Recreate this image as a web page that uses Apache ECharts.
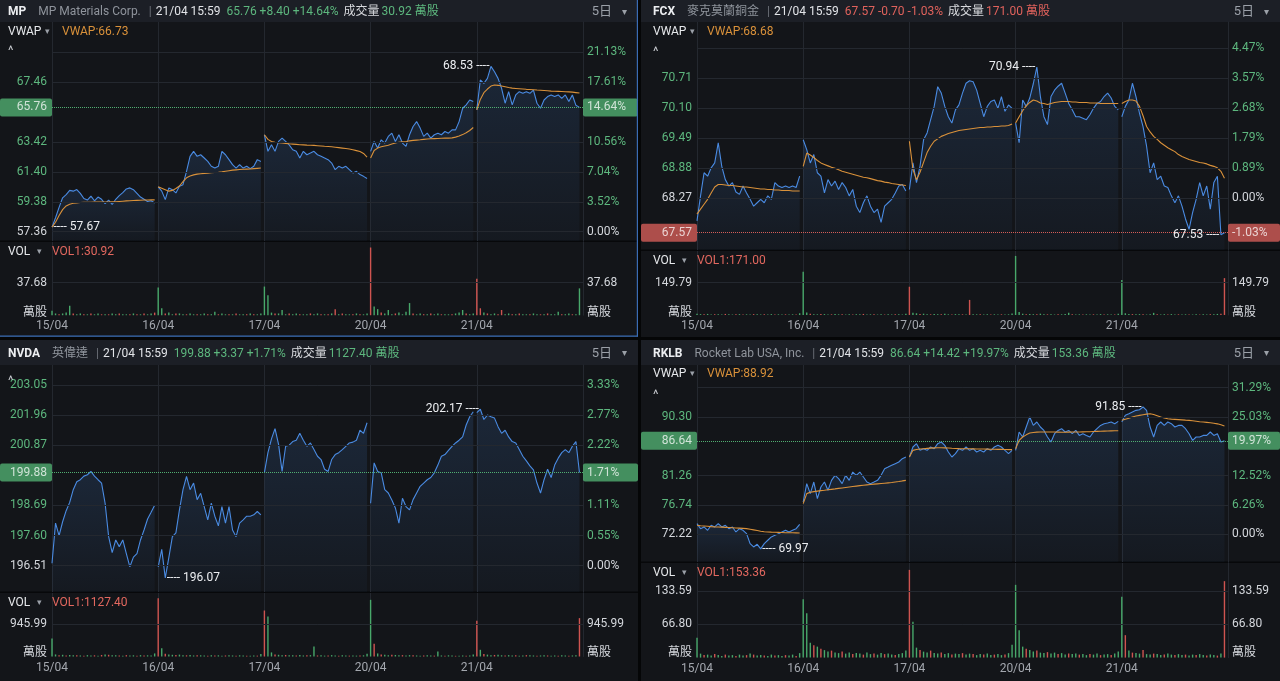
<!DOCTYPE html>
<html><head><meta charset="utf-8">
<script src="https://cdn.jsdelivr.net/npm/echarts@6.0.0/dist/echarts.min.js"></script>
<style>html,body{margin:0;padding:0;background:#050607;}#c{width:1280px;height:681px;}</style>
</head><body><div id="c"></div>
<script>
// ---------------- DATA ----------------
const dayLabels = ['15/04', '16/04', '17/04', '20/04', '21/04'];
const lastTime = '21/04 15:59';

// MP Materials
const mpPrevClose = 57.36;
const mpPriceTicks = [57.36, 59.38, 61.40, 63.42, 67.46, 69.48];
const mpVolTicks = [37.68];
const mpPrice = [
  [57.67, 58.30, 59.00, 59.65, 59.87, 60.15, 60.10, 60.21, 59.95, 59.60, 59.50, 59.76, 59.45, 59.70, 59.55, 59.25, 59.50, 59.20, 59.55, 59.80, 60.00, 60.25, 60.32, 60.20, 59.95, 59.70, 59.55, 59.40, 59.45, 59.30],
  [60.39, 60.10, 59.53, 60.32, 60.20, 59.98, 60.43, 60.54, 61.44, 62.45, 62.79, 62.45, 62.56, 62.34, 62.11, 61.78, 61.66, 61.78, 62.79, 62.56, 62.23, 61.89, 61.66, 61.89, 61.66, 61.78, 61.62, 61.78, 62.23, 62.11],
  [63.91, 62.79, 63.23, 62.79, 63.46, 63.68, 63.46, 63.23, 62.90, 62.79, 62.34, 62.79, 62.56, 62.67, 62.79, 62.56, 62.45, 62.34, 62.23, 62.00, 61.55, 61.78, 61.66, 61.78, 61.55, 61.33, 61.44, 61.22, 61.10, 60.95],
  [62.79, 63.46, 63.01, 63.57, 63.35, 63.80, 64.02, 63.46, 63.91, 63.35, 63.12, 63.91, 64.47, 64.80, 64.36, 63.80, 64.02, 63.68, 63.91, 64.02, 63.91, 64.13, 64.02, 64.24, 64.24, 64.80, 65.70, 65.93, 66.26, 66.15],
  [65.60, 67.61, 67.38, 67.72, 68.53, 68.17, 67.72, 67.05, 66.04, 66.82, 65.93, 66.60, 66.82, 66.71, 66.82, 66.71, 66.93, 66.04, 65.70, 66.26, 66.49, 66.60, 66.49, 66.60, 66.37, 66.60, 66.15, 66.60, 65.90, 65.76]
];
const mpVwap = [
  [57.67, 58.00, 58.45, 58.85, 59.10, 59.22, 59.28, 59.31, 59.33, 59.34, 59.35, 59.35, 59.36, 59.36, 59.36, 59.37, 59.37, 59.38, 59.38, 59.40, 59.42, 59.44, 59.45, 59.47, 59.48, 59.49, 59.50, 59.50, 59.51, 59.51],
  [60.39, 60.30, 60.20, 60.10, 60.15, 60.28, 60.45, 60.75, 61.00, 61.12, 61.20, 61.25, 61.28, 61.30, 61.32, 61.34, 61.36, 61.37, 61.40, 61.44, 61.48, 61.52, 61.54, 61.56, 61.58, 61.59, 61.60, 61.62, 61.64, 61.66],
  [63.91, 63.60, 63.45, 63.40, 63.37, 63.35, 63.33, 63.30, 63.28, 63.26, 63.24, 63.23, 63.21, 63.20, 63.19, 63.17, 63.15, 63.13, 63.12, 63.10, 63.07, 63.04, 63.01, 62.98, 62.95, 62.90, 62.84, 62.78, 62.65, 62.40],
  [62.34, 62.85, 63.01, 63.10, 63.15, 63.20, 63.28, 63.35, 63.40, 63.44, 63.46, 63.50, 63.53, 63.55, 63.57, 63.60, 63.62, 63.64, 63.65, 63.66, 63.67, 63.68, 63.68, 63.70, 63.75, 63.82, 63.92, 64.05, 64.20, 64.40],
  [65.59, 66.30, 66.75, 67.00, 67.20, 67.27, 67.25, 67.20, 67.15, 67.10, 67.06, 67.04, 67.02, 67.00, 66.98, 66.97, 66.95, 66.93, 66.92, 66.90, 66.88, 66.86, 66.85, 66.84, 66.83, 66.82, 66.81, 66.79, 66.76, 66.73]
];
// volume in 萬股; negative = down-tick (red) bar
const mpVol = [
  [5, 2, -1, 2, 3, 11, -2, 1, 2, -1, 1, -2, 1, 2, -1, 1, -1, 2, 1, -2, 1, 1, -1, 2, -1, 1, -2, 1, 2, -3],
  [32, 8, -2, 3, 1, -2, 2, 1, -1, 2, 1, -1, 1, 2, -1, 1, 4, -1, 2, 1, -1, 1, -2, 1, 1, -1, 2, -1, 1, 2],
  [33, 23, 3, -2, 2, 6, 1, -2, 1, 2, -1, 1, 1, -2, 1, 2, -1, 1, -1, 2, -7, 1, -2, 1, 1, -1, 2, -1, 1, 2],
  [-78, 10, 7, -3, 2, 6, 1, -2, 3, 1, 4, 14, -2, 1, 2, -1, 1, -2, 1, 2, -1, 1, 1, -1, 2, 3, 6, -2, 1, 2],
  [-42, -8, 3, -2, 1, 2, -1, -6, 1, 2, -1, 1, -2, 1, 1, -1, 2, 1, -1, 1, -2, 1, 1, 4, -1, 1, 2, -1, 1, 30.92]
];

// FCX
const fcxPrevClose = 68.27;
const fcxPriceTicks = [68.27, 68.88, 69.49, 70.10, 70.71, 71.32];
const fcxVolTicks = [149.79];
const fcxPrice = [
  [67.81, 68.32, 68.79, 68.72, 68.89, 68.99, 69.40, 68.92, 68.65, 68.52, 68.59, 68.40, 68.35, 68.52, 68.38, 68.25, 68.11, 68.18, 68.25, 68.18, 68.32, 68.25, 68.59, 68.52, 68.49, 68.52, 68.49, 68.52, 68.49, 68.72],
  [69.46, 69.26, 68.99, 69.16, 68.79, 68.72, 68.38, 68.65, 68.52, 68.62, 68.45, 68.59, 68.49, 68.32, 68.45, 68.11, 67.98, 68.18, 68.32, 68.11, 67.98, 68.05, 67.78, 68.11, 68.18, 68.25, 68.38, 68.52, 68.55, 68.42],
  [68.45, 68.99, 68.59, 68.92, 69.46, 69.60, 69.87, 70.14, 70.54, 70.41, 70.14, 69.93, 69.80, 70.07, 70.17, 70.41, 70.61, 70.66, 70.64, 70.47, 70.20, 69.93, 70.14, 70.24, 70.27, 70.10, 70.34, 70.04, 70.17, 70.10],
  [69.80, 69.40, 70.27, 70.14, 70.31, 70.60, 70.94, 70.34, 69.93, 69.77, 70.34, 70.47, 70.55, 70.61, 70.41, 70.20, 70.07, 69.93, 69.93, 69.90, 69.87, 69.97, 70.10, 70.20, 70.24, 70.34, 70.41, 70.31, 70.14, 70.07],
  [69.93, 70.14, 70.27, 70.61, 70.34, 70.00, 69.73, 69.33, 68.79, 68.99, 68.65, 68.72, 68.52, 68.49, 68.32, 68.18, 68.32, 68.11, 67.85, 67.64, 67.98, 68.25, 68.59, 68.32, 68.52, 68.05, 68.59, 68.72, 67.53, 67.57]
];
const fcxVwap = [
  [67.95, 68.05, 68.15, 68.25, 68.38, 68.50, 68.55, 68.55, 68.54, 68.53, 68.53, 68.52, 68.51, 68.50, 68.50, 68.49, 68.48, 68.47, 68.46, 68.46, 68.45, 68.45, 68.44, 68.44, 68.43, 68.43, 68.43, 68.42, 68.42, 68.42],
  [68.92, 69.19, 69.15, 69.10, 69.04, 68.99, 68.96, 68.93, 68.90, 68.88, 68.85, 68.82, 68.80, 68.78, 68.76, 68.74, 68.72, 68.70, 68.69, 68.67, 68.65, 68.63, 68.62, 68.60, 68.59, 68.57, 68.56, 68.55, 68.54, 68.53],
  [69.43, 68.86, 68.65, 68.80, 69.00, 69.20, 69.33, 69.43, 69.48, 69.53, 69.56, 69.59, 69.61, 69.63, 69.65, 69.66, 69.67, 69.68, 69.69, 69.70, 69.71, 69.71, 69.72, 69.72, 69.73, 69.73, 69.74, 69.74, 69.75, 69.78],
  [69.80, 69.93, 70.05, 70.15, 70.22, 70.27, 70.25, 70.21, 70.20, 70.18, 70.20, 70.22, 70.23, 70.24, 70.24, 70.24, 70.23, 70.23, 70.22, 70.22, 70.22, 70.21, 70.21, 70.21, 70.20, 70.20, 70.20, 70.20, 70.20, 70.20],
  [70.20, 70.24, 70.27, 70.27, 70.25, 70.14, 69.95, 69.73, 69.62, 69.53, 69.47, 69.40, 69.35, 69.30, 69.26, 69.22, 69.16, 69.12, 69.09, 69.06, 69.04, 69.02, 69.00, 68.99, 68.97, 68.94, 68.92, 68.89, 68.82, 68.68]
];
const fcxVol = [
  [6, 4, -3, 5, 2, -4, 3, 2, -5, 3, 2, -3, 4, -2, 3, 2, -4, 3, 2, -3, 2, 4, -2, 3, 2, -3, 2, 3, -2, 8],
  [201, 12, -6, 4, 3, -5, 4, 2, -3, 5, 3, -4, 2, 3, -2, 4, 3, -5, 2, 3, -4, 2, 3, -2, 4, 2, -3, 3, 2, 6],
  [-131, 10, 8, -5, 6, 4, -3, 5, 3, -4, 6, 3, -2, 4, 3, -3, 2, -70, 4, 3, -3, 2, 4, -2, 3, 2, -3, 2, 3, 7],
  [274, 14, 6, -4, 5, 3, -4, 6, 3, -3, 4, 2, -3, 3, 5, 11, -3, 2, 3, -2, 3, 2, -3, 2, 4, -2, 3, 2, -2, 6],
  [162, 8, 5, -4, 3, 4, -3, 2, 4, 10, -3, 2, 3, -2, 4, 2, -3, 2, 3, -2, 2, 3, -2, 4, 2, -3, 3, 5, -6, -171]
];

// NVDA
const nvdaPrevClose = 196.51;
const nvdaPriceTicks = [196.51, 197.60, 198.69, 200.87, 201.96, 203.05];
const nvdaVolTicks = [945.99];
const nvdaPrice = [
  [196.60, 198.05, 197.60, 198.10, 198.50, 198.80, 199.26, 199.55, 199.62, 199.75, 199.80, 199.92, 199.75, 199.62, 199.50, 198.77, 197.56, 196.98, 197.44, 197.20, 197.44, 196.95, 196.47, 196.82, 196.95, 197.44, 197.80, 198.20, 198.44, 198.70],
  [196.47, 197.10, 196.07, 196.80, 197.56, 197.70, 198.53, 199.26, 199.74, 199.26, 199.50, 198.90, 199.13, 198.65, 198.17, 198.77, 198.30, 197.95, 198.65, 198.05, 198.65, 197.80, 197.56, 198.05, 198.17, 198.30, 198.30, 198.35, 198.47, 198.35],
  [199.88, 200.60, 201.10, 201.47, 200.90, 199.92, 200.83, 200.87, 201.00, 201.05, 201.30, 201.05, 200.83, 200.95, 200.71, 200.47, 200.35, 200.00, 199.92, 200.35, 200.53, 200.60, 200.71, 200.83, 200.95, 200.98, 201.05, 201.41, 201.30, 201.68],
  [198.77, 200.23, 199.92, 199.87, 199.26, 199.14, 198.89, 198.60, 198.05, 198.95, 198.65, 198.53, 198.90, 199.14, 199.38, 199.50, 199.62, 199.70, 199.87, 200.15, 200.47, 200.53, 200.68, 200.83, 200.95, 201.05, 201.17, 201.60, 201.90, 202.08],
  [202.05, 202.17, 201.80, 201.96, 201.90, 201.85, 201.54, 201.30, 201.41, 201.17, 201.00, 200.95, 200.71, 200.47, 200.30, 200.12, 199.98, 199.50, 199.14, 199.62, 200.00, 199.70, 200.15, 200.40, 200.60, 200.71, 200.60, 200.83, 201.00, 199.88]
];
const nvdaVol = [
  [530, 60, -40, 50, -30, 45, 35, -40, 30, -25, 40, 30, -35, 25, -45, 60, -50, 40, 35, -30, 25, -40, 30, 35, -25, 40, -30, 35, 30, 90],
  [-1713, 245, -80, 60, 50, -45, 55, 40, -35, 45, 30, -40, 35, 30, -25, 40, -30, 35, 25, -30, 40, 30, -25, 35, 30, -20, 25, 30, -25, 70],
  [-1351, 1174, 120, -60, 50, 40, -45, 35, 40, -30, 45, 30, -35, 40, 294, -30, 35, 25, -30, 40, 30, -25, 35, 30, -25, 30, 25, -30, 35, 80],
  [1665, -373, 90, -60, 55, 40, -50, 45, 35, -40, 30, 40, -35, 30, 25, -30, 35, 30, -25, 147, 30, -25, 35, 30, -20, 25, 30, -25, 30, 60],
  [-1048, 197, -70, 55, 40, -45, 50, 35, -30, 40, 30, -35, 25, 30, -40, 35, 30, -25, 30, 35, -30, 25, 30, -25, 35, 30, -25, 30, 40, -1127.40]
];

// RKLB
const rklbPrevClose = 72.22;
const rklbPriceTicks = [72.22, 76.74, 81.26, 90.30, 94.82];
const rklbVolTicks = [66.80, 133.59];
const rklbPrice = [
  [73.86, 73.09, 73.35, 72.84, 73.61, 73.35, 73.86, 73.35, 73.61, 73.09, 73.35, 72.58, 73.09, 72.84, 72.32, 70.78, 70.27, 70.68, 69.97, 70.78, 71.30, 71.81, 72.07, 72.32, 72.58, 72.84, 72.58, 72.84, 73.09, 73.76],
  [77.20, 80.03, 78.49, 80.28, 77.72, 79.51, 80.28, 79.00, 80.54, 81.31, 80.80, 80.03, 81.31, 80.54, 81.82, 81.31, 81.82, 81.05, 80.28, 80.03, 80.28, 80.54, 81.31, 82.34, 82.59, 82.85, 83.11, 83.37, 83.88, 84.14],
  [84.14, 85.68, 86.19, 85.16, 85.42, 85.16, 85.68, 85.42, 86.19, 86.45, 85.93, 84.91, 84.14, 84.65, 85.42, 85.16, 85.68, 85.16, 85.42, 84.91, 85.16, 84.91, 85.42, 85.16, 85.68, 85.93, 85.68, 85.16, 84.65, 85.16],
  [85.16, 87.99, 87.22, 88.76, 90.30, 89.01, 89.53, 88.76, 88.24, 87.22, 86.45, 87.73, 88.24, 88.50, 87.99, 88.24, 87.73, 88.24, 87.47, 87.73, 87.47, 87.22, 87.99, 88.50, 89.01, 89.27, 89.37, 89.53, 89.27, 89.63],
  [89.53, 90.56, 90.81, 91.07, 91.33, 91.43, 91.85, 91.33, 88.76, 87.22, 89.01, 89.53, 89.01, 89.53, 89.27, 88.76, 89.01, 89.01, 88.50, 87.73, 86.70, 87.22, 87.22, 87.47, 87.47, 87.99, 87.47, 87.73, 86.45, 86.64]
];
const rklbVwap = [
  [73.61, 73.55, 73.50, 73.45, 73.40, 73.37, 73.35, 73.32, 73.29, 73.26, 73.23, 73.20, 73.17, 73.13, 73.09, 73.00, 72.90, 72.80, 72.70, 72.62, 72.58, 72.55, 72.53, 72.51, 72.49, 72.47, 72.46, 72.45, 72.44, 72.43],
  [76.95, 78.49, 78.70, 78.80, 78.88, 78.95, 79.00, 79.08, 79.15, 79.22, 79.30, 79.37, 79.44, 79.51, 79.58, 79.65, 79.72, 79.78, 79.84, 79.90, 79.95, 80.00, 80.05, 80.10, 80.15, 80.20, 80.28, 80.35, 80.45, 80.54],
  [84.14, 85.16, 85.30, 85.38, 85.42, 85.46, 85.50, 85.54, 85.57, 85.57, 85.55, 85.52, 85.48, 85.45, 85.43, 85.42, 85.41, 85.40, 85.39, 85.38, 85.37, 85.36, 85.35, 85.34, 85.33, 85.32, 85.31, 85.30, 85.28, 85.27],
  [85.42, 86.70, 87.22, 87.55, 87.83, 87.92, 87.97, 87.99, 88.00, 88.00, 87.99, 87.98, 87.97, 87.96, 87.96, 87.97, 87.98, 87.99, 88.00, 88.01, 88.02, 88.04, 88.06, 88.08, 88.10, 88.12, 88.14, 88.16, 88.18, 88.19],
  [89.79, 89.95, 90.10, 90.30, 90.45, 90.55, 90.65, 90.75, 90.81, 90.70, 90.50, 90.30, 90.15, 90.04, 89.98, 89.94, 89.90, 89.86, 89.82, 89.79, 89.72, 89.65, 89.58, 89.53, 89.48, 89.42, 89.35, 89.25, 89.10, 88.92]
];
const rklbVol = [
  [40, 8, -5, 6, 4, -7, 5, 3, -6, 4, 5, -3, 6, 4, -5, 8, -6, 4, 5, -4, 3, 6, -4, 5, 3, -5, 4, 6, -3, 9],
  [117, 89, 30, -25, 22, -18, 15, 12, -14, 10, 9, -12, 8, 10, -7, 9, 8, -6, 10, 7, -8, 6, 9, -7, 8, 6, -5, 7, 9, 14],
  [-176, 72, 20, -15, 12, 10, -14, 9, 8, -10, 7, 9, -6, 8, 7, -9, 6, 8, -7, 5, 7, -6, 8, 5, -6, 7, 5, -6, 9, 26],
  [146, 55, 22, -18, 15, 12, -14, 10, 9, -11, 8, 10, -7, 9, 6, -8, 7, 8, -6, 7, 5, -7, 6, 8, -5, 6, 7, -5, 8, 12],
  [122, -45, 14, -10, 9, 8, -15, 7, 6, -8, 7, 5, -6, 8, 6, -5, 7, 5, -6, 4, 6, -5, 7, 5, -4, 6, 5, -4, 8, -153.36]
];

// ---------------- STYLE / LAYOUT ----------------
const FONT = 'Roboto, "Noto Sans CJK TC", "Noto Sans", sans-serif';
const COL = {
  bg: '#131519', header: '#1c1f26', grid: '#24282f', sep: '#07080a',
  blue: '#4a8be2', orange: '#d9913a', green: '#5db77e', red: '#e0625c',
  white: '#d4d7dc', grey: '#8f949c', volG: '#48a86a', volR: '#cf5450',
  hlG: '#55b877', hlR: '#e2625c', sel: '#3a6cb4', vol1: '#e3685f'
};
const PER_DAY = 30;
const cats = [];
dayLabels.forEach(d => { for (let i = 0; i < PER_DAY; i++) cats.push(d + '#' + i); });
cats.push('#end');

const panels = [
  { sym: 'MP', name: 'MP Materials Corp.', prev: mpPrevClose, price: mpPrice, vwap: mpVwap, vol: mpVol,
    ticks: mpPriceTicks, volTicks: mpVolTicks, hideTopLeft: true, selected: true,
    x0: 0, y0: 0, w: 638, h: 337, hdrTop: 0, hdrH: 22, pad: 8, L: 52, R: 583,
    pTop: 22, pBot: 241, pMin: 56.732, pMax: 71.529, vTop: 242, vBot: 315.2, vMax: 84.35,
    vwapY: 30, caretY: 47, volY: 250, unitY: 311 },
  { sym: 'FCX', name: '麥克莫蘭銅金', prev: fcxPrevClose, price: fcxPrice, vwap: fcxVwap, vol: fcxVol,
    ticks: fcxPriceTicks, volTicks: fcxVolTicks, hideTopLeft: true,
    x0: 641, y0: 0, w: 639, h: 337, hdrTop: 0, hdrH: 22, pad: 12, L: 697, R: 1228,
    pTop: 22, pBot: 250, pMin: 67.219, pMax: 71.856, vTop: 251, vBot: 315, vMax: 296.8,
    vwapY: 30, caretY: 48, volY: 259, unitY: 311 },
  { sym: 'NVDA', name: '英偉達', prev: nvdaPrevClose, price: nvdaPrice, vwap: null, vol: nvdaVol,
    ticks: nvdaPriceTicks, volTicks: nvdaVolTicks, hideTopLeft: false,
    x0: 0, y0: 340, w: 638, h: 341, hdrTop: 340, hdrH: 25, pad: 8, L: 52, R: 583,
    pTop: 365, pBot: 592, pMin: 195.558, pMax: 203.771, vTop: 593, vBot: 656.5, vMax: 1865.5,
    vwapY: null, caretY: 377, volY: 601, unitY: 651 },
  { sym: 'RKLB', name: 'Rocket Lab USA, Inc.', prev: rklbPrevClose, price: rklbPrice, vwap: rklbVwap, vol: rklbVol,
    ticks: rklbPriceTicks, volTicks: rklbVolTicks, hideTopLeft: true,
    x0: 641, y0: 340, w: 639, h: 341, hdrTop: 340, hdrH: 25, pad: 12, L: 697, R: 1228,
    pTop: 365, pBot: 562, pMin: 67.95, pMax: 98.32, vTop: 563, vBot: 657.6, vMax: 189.8,
    vwapY: 372, caretY: 391, volY: 571, unitY: 651 }
];

const option = { backgroundColor: '#050607', animation: false, grid: [], xAxis: [], yAxis: [], series: [], graphic: [] };

function padDay(arr, d) {
  const out = new Array(cats.length).fill(null);
  arr.forEach((v, i) => { out[d * PER_DAY + i] = v; });
  return out;
}
const TXT_DY = 1.5;
function txt(x, y, text, fill, extra) {
  return { type: 'text', x: x, y: y + TXT_DY, silent: true, z: 60,
    style: Object.assign({ text: text, fill: fill, fontSize: 12, fontFamily: FONT, align: 'left', verticalAlign: 'middle' }, extra || {}) };
}
const dayTick = (idx) => idx % PER_DAY === 0 && idx < PER_DAY * dayLabels.length;

function addPanel(p) {
  const gi = option.grid.length;
  const G = option.graphic;
  const flat = p.price.flat();
  const last = flat[flat.length - 1];
  const chg = last - p.prev;
  const up = chg >= 0;
  const vflat = p.vol.flat();
  const volLast = Math.abs(vflat[vflat.length - 1]);

  // backgrounds
  G.push({ type: 'rect', silent: true, z: -100, shape: { x: p.x0, y: p.y0, width: p.w, height: p.h }, style: { fill: COL.bg } });
  G.push({ type: 'rect', silent: true, z: -99, shape: { x: p.x0, y: p.hdrTop, width: p.w, height: p.hdrH }, style: { fill: COL.header } });
  G.push({ type: 'rect', silent: true, z: -50, shape: { x: p.x0, y: p.pBot - 0.5, width: p.w, height: 1.5 }, style: { fill: COL.sep } });
  if (p.selected) {
    G.push({ type: 'rect', silent: true, z: 80, shape: { x: p.x0, y: p.y0 + p.h - 1.5, width: p.w, height: 1.2 }, style: { fill: COL.sel } });
    G.push({ type: 'rect', silent: true, z: 80, shape: { x: p.x0 + p.w - 1.2, y: p.y0, width: 1.2, height: p.h - 0.5 }, style: { fill: COL.sel } });
  }

  // header
  const vc = up ? COL.green : COL.red;
  const pctStr = (up ? '+' : '') + (chg / p.prev * 100).toFixed(2) + '%';
  const chgStr = (up ? '+' : '') + chg.toFixed(2);
  G.push({ type: 'text', x: p.x0 + p.pad, y: p.hdrTop + p.hdrH / 2 + 1, silent: true, z: 60,
    style: { text: '{s|' + p.sym + '}{n|' + p.name + '}{b||}{t|' + lastTime + '}{v|' + last.toFixed(2) + ' ' + chgStr + ' ' + pctStr + '}{l|成交量}{w|' + volLast.toFixed(2) + ' 萬股}',
      verticalAlign: 'middle', align: 'left', fontFamily: FONT, fontSize: 12,
      rich: {
        s: { fill: '#eceef1', fontSize: 12, fontWeight: 'bold', fontFamily: FONT },
        n: { fill: COL.grey, fontSize: 12, fontFamily: FONT, padding: [0, 0, 0, 12] },
        b: { fill: '#6d727a', fontSize: 12, fontFamily: FONT, padding: [0, 4, 0, 8] },
        t: { fill: '#e2e4e8', fontSize: 12, fontFamily: FONT },
        v: { fill: vc, fontSize: 12, fontFamily: FONT, padding: [0, 0, 0, 6] },
        l: { fill: '#d8dade', fontSize: 12, fontFamily: FONT, padding: [0, 2, 0, 5] },
        w: { fill: vc, fontSize: 12, fontFamily: FONT }
      } } });
  G.push(txt(p.x0 + p.w - 26, p.hdrTop + p.hdrH / 2 - 0.5, '5日', '#9ba0a8', { align: 'right', fontSize: 13 }));
  G.push(txt(p.x0 + p.w - 14, p.hdrTop + p.hdrH / 2 - 0.5, '▾', '#9ba0a8', { align: 'center', fontSize: 10 }));

  // row labels
  if (p.vwap) {
    const vw = p.vwap.flat();
    G.push(txt(p.x0 + p.pad, p.vwapY, 'VWAP', '#e6e8eb'));
    G.push(txt(p.x0 + p.pad + 39, p.vwapY, '▾', '#9ba0a8', { align: 'center', fontSize: 9 }));
    G.push(txt(p.L + 10, p.vwapY, 'VWAP:' + vw[vw.length - 1].toFixed(2), COL.orange));
  }
  G.push(txt(p.x0 + p.pad, p.caretY + 3, '^', '#c8cbd0', { fontSize: 13 }));
  G.push(txt(p.x0 + p.pad, p.volY, 'VOL', '#e6e8eb'));
  G.push(txt(p.x0 + p.pad + 31, p.volY, '▾', '#9ba0a8', { align: 'center', fontSize: 9 }));
  G.push(txt(p.L, p.volY, 'VOL1:' + volLast.toFixed(2), COL.vol1));
  G.push(txt(p.L - 5, p.unitY, '萬股', COL.white, { align: 'right' }));
  G.push(txt(p.R + 4, p.unitY, '萬股', COL.white));

  // grids & axes
  option.grid.push({ left: p.L, top: p.pTop, width: p.R - p.L, height: p.pBot - p.pTop });
  option.grid.push({ left: p.L, top: p.vTop, width: p.R - p.L, height: p.vBot - p.vTop });
  const xBase = { type: 'category', data: cats, boundaryGap: false, axisLine: { show: false }, axisTick: { show: false },
    splitLine: { show: true, interval: dayTick, lineStyle: { color: COL.grid, width: 1 } } };
  option.xAxis.push(Object.assign({}, xBase, { gridIndex: gi, axisLabel: { show: false } }));
  option.xAxis.push(Object.assign({}, xBase, { gridIndex: gi + 1,
    axisLabel: { show: true, interval: dayTick, formatter: v => v.split('#')[0], color: '#a3a7ae', fontSize: 12, fontFamily: FONT, margin: 5 } }));
  const yBase = { type: 'value', position: 'right', axisLine: { show: true, lineStyle: { color: COL.grid } }, axisTick: { show: false }, axisLabel: { show: false }, splitLine: { show: false } };
  option.yAxis.push(Object.assign({}, yBase, { gridIndex: gi, min: p.pMin, max: p.pMax }));
  option.yAxis.push(Object.assign({}, yBase, { gridIndex: gi + 1, min: 0, max: p.vMax }));

  // price grid lines & labels (markLine)
  const lbl = { fontSize: 12, fontFamily: FONT };
  const ml = [];
  p.ticks.forEach((t, i) => {
    const col = Math.abs(t - p.prev) < 1e-9 ? COL.white : (t > p.prev ? COL.green : COL.red);
    const pct = ((t / p.prev - 1) * 100).toFixed(2) + '%';
    const hideLeft = p.hideTopLeft && i === p.ticks.length - 1;
    ml.push({ yAxis: t, lineStyle: { color: COL.grid, type: 'solid', width: 1 },
      label: Object.assign({ show: !hideLeft, position: 'start', distance: 5, formatter: t.toFixed(2), color: col }, lbl) });
    ml.push({ yAxis: t, lineStyle: { color: COL.grid, type: 'solid', width: 1 },
      label: Object.assign({ show: true, position: 'end', distance: 4, formatter: pct, color: col }, lbl) });
  });
  const hl = up ? COL.hlG : COL.hlR;
  ml.push({ yAxis: last, lineStyle: { color: hl, type: 'dotted', width: 1, opacity: 0.75 },
    label: Object.assign({ show: true, position: 'start', distance: 0, formatter: last.toFixed(2), color: '#ffffff',
      backgroundColor: hl, padding: [3, 5, 3, 5], width: p.L - p.x0 - 10, align: 'right', borderRadius: 2 }, lbl) });
  ml.push({ yAxis: last, lineStyle: { color: hl, type: 'dotted', width: 1, opacity: 0.75 },
    label: Object.assign({ show: true, position: 'end', distance: 0, formatter: pctStr.replace('+', ''), color: '#ffffff',
      backgroundColor: hl, padding: [3, 4, 3, 4], width: p.x0 + p.w - p.R - 8, align: 'left', borderRadius: 2 }, lbl) });

  // extremes
  let maxI = 0, minI = 0;
  flat.forEach((v, i) => { if (v > flat[maxI]) maxI = i; if (v < flat[minI]) minI = i; });
  const half = flat.length / 2;
  function extreme(type, idx) {
    const left = idx > half;
    return { type: type, label: Object.assign({ show: true, position: left ? 'left' : 'right', distance: 1, color: '#eceef1',
      formatter: prm => left ? Number(prm.value).toFixed(2) + ' ----' : '---- ' + Number(prm.value).toFixed(2) }, lbl) };
  }

  const grad = new echarts.graphic.LinearGradient(0, 0, 0, 1, [
    { offset: 0, color: 'rgba(74,139,226,0.22)' }, { offset: 1, color: 'rgba(74,139,226,0.05)' }]);
  p.price.forEach((day, d) => {
    const s = { type: 'line', xAxisIndex: gi, yAxisIndex: gi, data: padDay(day, d), showSymbol: false, symbol: 'none',
      connectNulls: false, silent: true, z: 3, lineStyle: { color: COL.blue, width: 1.1 }, areaStyle: { color: grad } };
    const mp = [];
    if (Math.floor(maxI / PER_DAY) === d) mp.push(extreme('max', maxI));
    if (Math.floor(minI / PER_DAY) === d) mp.push(extreme('min', minI));
    if (mp.length) s.markPoint = { symbol: 'circle', symbolSize: 1, silent: true, itemStyle: { color: 'rgba(0,0,0,0)' }, data: mp };
    if (d === 0) s.markLine = { symbol: ['none', 'none'], silent: true, animation: false, data: ml };
    option.series.push(s);
  });
  if (p.vwap) {
    p.vwap.forEach((day, d) => {
      option.series.push({ type: 'line', xAxisIndex: gi, yAxisIndex: gi, data: padDay(day, d), showSymbol: false, symbol: 'none',
        silent: true, z: 4, lineStyle: { color: COL.orange, width: 1.1 } });
    });
  }

  // volume
  const vml = [];
  p.volTicks.forEach(t => {
    vml.push({ yAxis: t, lineStyle: { color: COL.grid, type: 'solid', width: 1 },
      label: Object.assign({ show: true, position: 'start', distance: 5, formatter: t.toFixed(2), color: COL.white }, lbl) });
    vml.push({ yAxis: t, lineStyle: { color: COL.grid, type: 'solid', width: 1 },
      label: Object.assign({ show: true, position: 'end', distance: 4, formatter: t.toFixed(2), color: COL.white }, lbl) });
  });
  option.series.push({ type: 'bar', xAxisIndex: gi + 1, yAxisIndex: gi + 1, silent: true, barWidth: 1.4,
    data: vflat.map(v => ({ value: Math.abs(v), itemStyle: { color: v >= 0 ? COL.volG : COL.volR } })),
    markLine: { symbol: ['none', 'none'], silent: true, animation: false, data: vml } });
}

panels.forEach(addPanel);
const chart = echarts.init(document.getElementById('c'));
chart.setOption(option);
</script>
</body></html>
